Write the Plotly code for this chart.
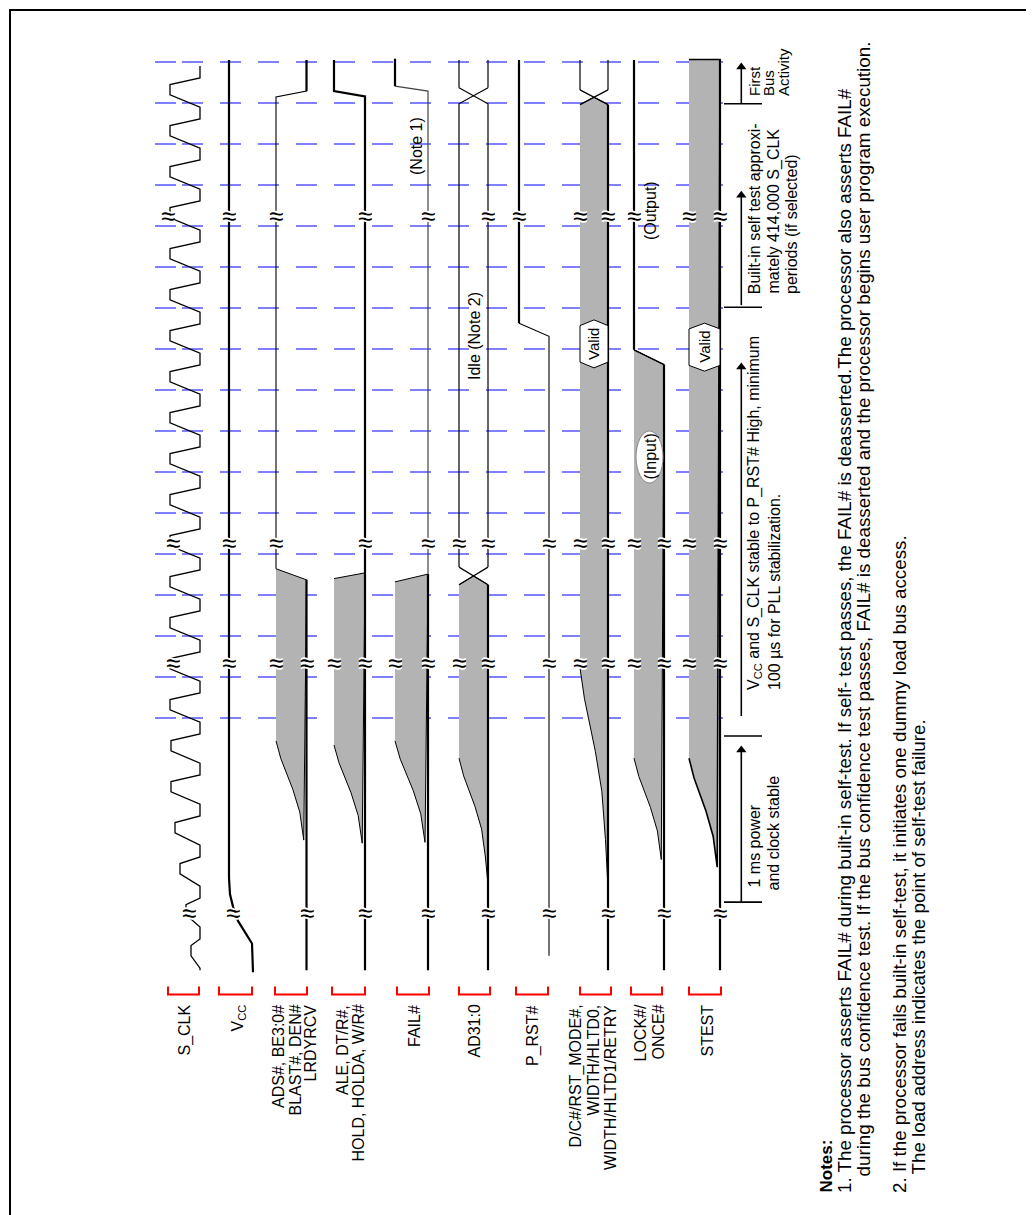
import plotly.graph_objects as go

W, H = 1034, 1215
PX_T = 41.0    # pixels per S_CLK period
Y0 = 710.0     # pixel row of t = 0 (last dashed grid line)
FONT = "Liberation Sans, Arial, sans-serif"


def tp(ypix):
    return (Y0 - ypix) / PX_T


# ---------------- data (t in S_CLK periods) ----------------
grid_t = [0, 1, 2, 3, 4, 5, 6, 7, 8, 9, 10, 11, 12, 13, 14, 15, 16]
t_top, t_bottom = 16.05, -6.15
breaks_t = [12.24, 4.27, 1.34, -4.76]

# clock: cycle index -> left level; shape of one period (left, left, right, right)
clk_cycles = [-6, -5, -4, -3, -2, -1, 0, 1, 2, 3, 4, 5, 6, 7, 8, 9, 10, 11, 12, 13, 14, 15]
clk_low = [183, 178, 172, 167, 163, 163, 162, 162, 162, 162, 162, 162, 162, 162, 162,
           162, 162, 162, 162, 162, 162, 162]
clk_phase = [0.20, 0.45, 0.61, 0.90]

vcc_t = [16.05, -3.90, -4.30, -4.60, -4.95, -5.25, -5.50, -6.20]
vcc_x = [221, 221, 222, 225, 230, 238, 244, 245]

# power-up ramp of the undefined (grey) region: fraction of time span -> fraction of width
ramp_pos = [0, 0.14, 0.38, 0.56, 0.78, 1.0]
ramp_frac = [0, 0.16, 0.55, 0.78, 0.91, 1.0]

lanes = ["S_CLK", "VCC", "ADS", "ALE", "FAIL", "AD", "PRST", "DC", "LOCK", "STEST"]
lane_lr = {"S_CLK": (162, 192), "VCC": (221, 245), "ADS": (268, 298.5), "ALE": (326, 357),
           "FAIL": (387, 420), "AD": (451, 480), "PRST": (511, 541), "DC": (572, 600),
           "LOCK": (626, 656), "STEST": (681, 712)}

# grey region: ramp start, ramp end, top-left t, top-right t
ads_fill = [-0.56, -3.66, 3.64, 3.37]
ale_fill = [-0.66, -3.73, 3.40, 3.54]
fail_fill = [-0.56, -3.73, 3.32, 3.51]
ad_fill = [-0.98, -4.07, 3.25, 3.68]        # X crossing low / high
dc_fill = [1.22, -4.15, 14.96, 15.32]       # X crossing low / high
lock_fill = [-0.98, -4.15, 8.98, 8.62]
stest_fill = [-0.98, -4.39, 16.06, 16.06]

# late transitions near the top
ads_top = [15.15, 15.29]
ale_top = [15.16, 15.29]
fail_top = [15.29, 15.41]
ad_top = [14.98, 15.37]
prst_edge = [9.31, 9.63]
prst_start = -5.80

valid_dc = [8.54, 9.71]
valid_stest = [8.46, 9.63]

break_sides = {"VCC": ["C", "C", "C", "C"], "ADS": ["L", "L", "LR", "R"], "ALE": ["R", "R", "LR", "R"],
               "FAIL": ["R", "R", "LR", "R"], "AD": ["R", "LR", "LR", "R"], "PRST": ["L", "R", "R", "R"],
               "DC": ["LR", "LR", "LR", "R"], "LOCK": ["L", "LR", "LR", "R"], "STEST": ["LR", "LR", "LR", "R"]}
clk_break_x = [160, 165, 165, 181]
vcc_break_x = [221, 221, 221, 225]

label_lines = {"S_CLK": ["S_CLK"], "VCC": ["V<sub>CC</sub>"],
               "ADS": ["ADS#, BE3:0#", "BLAST#, DEN#", "LRDYRCV"],
               "ALE": ["ALE, DT/R#,", "HOLD, HOLDA, W/R#"], "FAIL": ["FAIL#"], "AD": ["AD31:0"],
               "PRST": ["P_RST#"], "DC": ["D/C#/RST_MODE#,", "WIDTH/HLTD0,", "WIDTH/HLTD1/RETRY"],
               "LOCK": ["LOCK#/", "ONCE#"], "STEST": ["STEST"]}
label_x = {"S_CLK": [176], "VCC": [230], "ADS": [270.5, 287, 302], "ALE": [334, 350], "FAIL": [406],
           "AD": [466], "PRST": [524.5], "DC": [567, 585, 602.5], "LOCK": [632, 650], "STEST": [698.5]}
bracket_x = {"S_CLK": (160, 191), "VCC": (211, 244), "ADS": (267, 299), "ALE": (324, 357),
             "FAIL": (389, 421), "AD": (451, 482), "PRST": (508, 540), "DC": (572, 603),
             "LOCK": (623, 654), "STEST": (681, 713)}

# timing arrows: tick t, arrow start, arrow tip
tick_t = [-4.49, -0.44, 10.02, 14.98]
arrow_from = [-4.49, 0.05, 10.07, 14.98]
arrow_to = [-0.68, 8.66, 12.85, 15.98]

notes = [
    "<b>Notes:</b>",
    "1. The processor asserts FAIL# during built-in self-test. If self- test passes, the FAIL# is "
    "deasserted.The processor also asserts FAIL#",
    "during the bus confidence test. If the bus confidence test passes, FAIL# is deasserted and the "
    "processor begins user program execution.",
    "2. If the processor fails built-in self-test, it initiates one dummy load bus access.",
    "The load address indicates the point of self-test failure.",
]
notes_x = [818, 836.5, 855, 891, 910]
notes_y = [1186, 1186, 1170, 1186, 1168]
notes_size = [17, 18.8, 18.8, 18.8, 18.8]

fig = go.Figure()


def line(xs, ts, width=1.0, color="black", dash=None):
    fig.add_trace(go.Scatter(x=xs, y=ts, mode="lines", hoverinfo="skip", showlegend=False,
                             line=dict(color=color, width=width, dash=dash)))


def poly(xs, ts, fill="#b3b3b3", width=1.0):
    fig.add_trace(go.Scatter(x=xs, y=ts, mode="lines", fill="toself", fillcolor=fill,
                             hoverinfo="skip", showlegend=False,
                             line=dict(color="black", width=width)))


def vtext(x, t, text, size=16, yanchor="middle"):
    fig.add_annotation(x=x, y=t, text=text, textangle=-90, showarrow=False, xanchor="center",
                       yanchor=yanchor, borderpad=0, font=dict(size=size, family=FONT, color="black"))


# dashed grid
gx, gt, sx, st = [], [], [], []
for g in grid_t:
    gx += [174, 715, None]
    gt += [g, g, None]
    sx += [147, 168, None]
    st += [g, g, None]
line(gx, gt, 2, "#8080ff", "21px,17px")
line(sx, st, 2, "#8080ff")


def ramp_edge(lane, t_start, t_end):
    L, R = lane_lr[lane]
    xs = [L + f * (R - L) for f in ramp_frac]
    ts = [t_start + p * (t_end - t_start) for p in ramp_pos]
    return xs, ts


# grey undefined regions
for lane, fl in [("ADS", ads_fill), ("ALE", ale_fill), ("FAIL", fail_fill), ("LOCK", lock_fill),
                 ("STEST", stest_fill)]:
    L, R = lane_lr[lane]
    rx, rt = ramp_edge(lane, fl[0], fl[1])
    poly([L, R] + rx[::-1][1:] + rx[:1], [fl[2], fl[3]] + rt[::-1][1:] + rt[:1],
         width=1.6 if lane == "STEST" else 1)

for lane, fl in [("AD", ad_fill), ("DC", dc_fill)]:
    L, R = lane_lr[lane]
    rx, rt = ramp_edge(lane, fl[0], fl[1])
    mid = (fl[2] + fl[3]) / 2
    poly([L, (L + R) / 2, R] + rx[::-1], [fl[2], mid, fl[2]] + rt[::-1])
    # X crossing
    line([L, R, None, R, L], [fl[2], fl[3], None, fl[2], fl[3]], 1.2)

# S_CLK
L, R = lane_lr["S_CLK"]
cx, ct = [R, R], [t_bottom, -6.10]
for k, xl in zip(clk_cycles, clk_low):
    for ph, lvl in zip(clk_phase, [xl, xl, R, R]):
        cx.append(lvl)
        ct.append(k + ph)
line(cx, ct, 1.3)

# VCC
line(vcc_x, vcc_t, 2.2)

# ADS#
L, R = lane_lr["ADS"]
line([R, R], [t_bottom, ads_fill[3]], 2.2)
line([L, L, R, R], [ads_fill[2], ads_top[0], ads_top[1], t_top], 1.1)
line([R, R], [ads_top[1], t_top], 2.2)

# ALE
L, R = lane_lr["ALE"]
line([R, R, L, L], [t_bottom, ale_top[0], ale_top[1], t_top], 2.2)

# FAIL#
L, R = lane_lr["FAIL"]
line([R, R], [t_bottom, fail_fill[3]], 2.2)
line([R, R, L], [fail_fill[3], fail_top[0], fail_top[1]], 1.2, "#444444")
line([L, L], [fail_top[1], t_top + 0.03], 2.2)

# AD31:0
L, R = lane_lr["AD"]
line([R, R], [t_bottom, ad_fill[2]], 2.2)
line([L, L, R, None, R, R, L], [ad_fill[3], ad_top[0], ad_top[1], None, ad_fill[3], ad_top[0], ad_top[1]], 1.2)
line([L, L, None, R, R], [ad_top[1], t_top, None, ad_top[1], t_top], 1.2)

# P_RST#
L, R = lane_lr["PRST"]
line([R, R, L], [prst_start, prst_edge[0], prst_edge[1]], 1.1)
line([L, L], [prst_edge[1], t_top], 2.2)

# D/C#
L, R = lane_lr["DC"]
line([R, R], [t_bottom, dc_fill[2]], 2.2)
line([L, L, None, R, R], [dc_fill[3], t_top, None, dc_fill[3], t_top], 1.2)

# LOCK#
L, R = lane_lr["LOCK"]
line([R, R], [t_bottom, lock_fill[3]], 2.2)
line([L, L], [lock_fill[2], t_top], 2.2)
line([L, R], [lock_fill[2], lock_fill[3]], 1.5)

# STEST
L, R = lane_lr["STEST"]
line([R, R], [t_bottom, stest_fill[3]], 2.2)

# "Valid" hexagons
for lane, (tb, tt) in [("DC", valid_dc), ("STEST", valid_stest)]:
    L, R = lane_lr[lane]
    c = (L + R) / 2
    d = 0.14
    poly([c, R, R, c, L, L, c], [tb, tb + d, tt - d, tt, tt - d, tb + d, tb], fill="white")
    vtext(c, (tb + tt) / 2, "Valid", 15)

# break marks: white knockout copies under a black double tilde
for i, tb in enumerate(breaks_t):
    pts = [clk_break_x[i], vcc_break_x[i]]
    for lane, sides in break_sides.items():
        if lane == "VCC":
            continue
        L, R = lane_lr[lane]
        if "L" in sides[i]:
            pts.append(L)
        if "R" in sides[i]:
            pts.append(R)
    for x in pts:
        for dy, col in [(0.055, "white"), (-0.055, "white"), (0, "black")]:
            fig.add_annotation(x=x, y=tb + dy, text="≈", showarrow=False, xanchor="center",
                               yanchor="middle", borderpad=0,
                               font=dict(size=26, family=FONT, color=col))

# in-lane texts
vtext(408, tp(138), "(Note 1)", 16)
vtext(466, tp(328), "Idle (Note 2)", 16)
vtext(642, tp(203), "(Output)", 16)
fig.add_shape(type="circle", xref="x", yref="y", x0=628, x1=655, y0=tp(475), y1=tp(423),
              fillcolor="white", line=dict(color="#888888", width=1), layer="above")
vtext(641.5, tp(449), "(Input)", 16)

# red brackets and signal labels
for lane in lanes:
    x0, x1 = bracket_x[lane]
    line([x0, x0, x1, x1], [tp(978.5), tp(986.5), tp(986.5), tp(978.5)], 2, "#ff0000")
    for txt, x in zip(label_lines[lane], label_x[lane]):
        vtext(x, tp(996), txt, 16, "top")

# timing arrows
for tk in tick_t:
    line([716, 754], [tk, tk], 1.6)
for a, b in zip(arrow_from, arrow_to):
    line([733.3, 733.3], [a, b - 0.1], 1.6)
fig.add_trace(go.Scatter(x=[733.3] * 4, y=[b - 0.1 for b in arrow_to], mode="markers",
                         hoverinfo="skip", showlegend=False,
                         marker=dict(symbol="triangle-up", size=9, color="black")))

vtext(746, tp(89), "First", 15, "bottom")
vtext(760, tp(89), "Bus", 15, "bottom")
vtext(775, tp(89), "Activity", 15, "bottom")
vtext(746.7, tp(287), "Built-in self test approxi-", 16, "bottom")
vtext(765, tp(287), "mately 414,000 S_CLK", 16, "bottom")
vtext(783, tp(287), "periods (if selected)", 16, "bottom")
vtext(746, tp(683), "V<sub>CC</sub> and S_CLK stable to P_RST# High, minimum", 16, "bottom")
vtext(766, tp(683), "100 µs for PLL stabilization.", 16, "bottom")
vtext(746, tp(881), "1 ms power", 16, "bottom")
vtext(765, tp(884), "and clock stable", 16, "bottom")

for txt, x, y, s in zip(notes, notes_x, notes_y, notes_size):
    vtext(x, tp(y), txt, s, "bottom")

fig.add_shape(type="rect", xref="paper", yref="paper", x0=2 / W, x1=1031 / W, y0=2 / H, y1=1 - 2 / H,
              line=dict(color="black", width=2))

fig.update_layout(
    width=W, height=H, margin=dict(l=0, r=0, t=0, b=0),
    paper_bgcolor="white", plot_bgcolor="white", showlegend=False,
    xaxis=dict(range=[0, W], visible=False, fixedrange=True),
    yaxis=dict(range=[tp(H), tp(0)], visible=False, fixedrange=True),
    font=dict(family=FONT),
)
fig.write_html("out.html")
